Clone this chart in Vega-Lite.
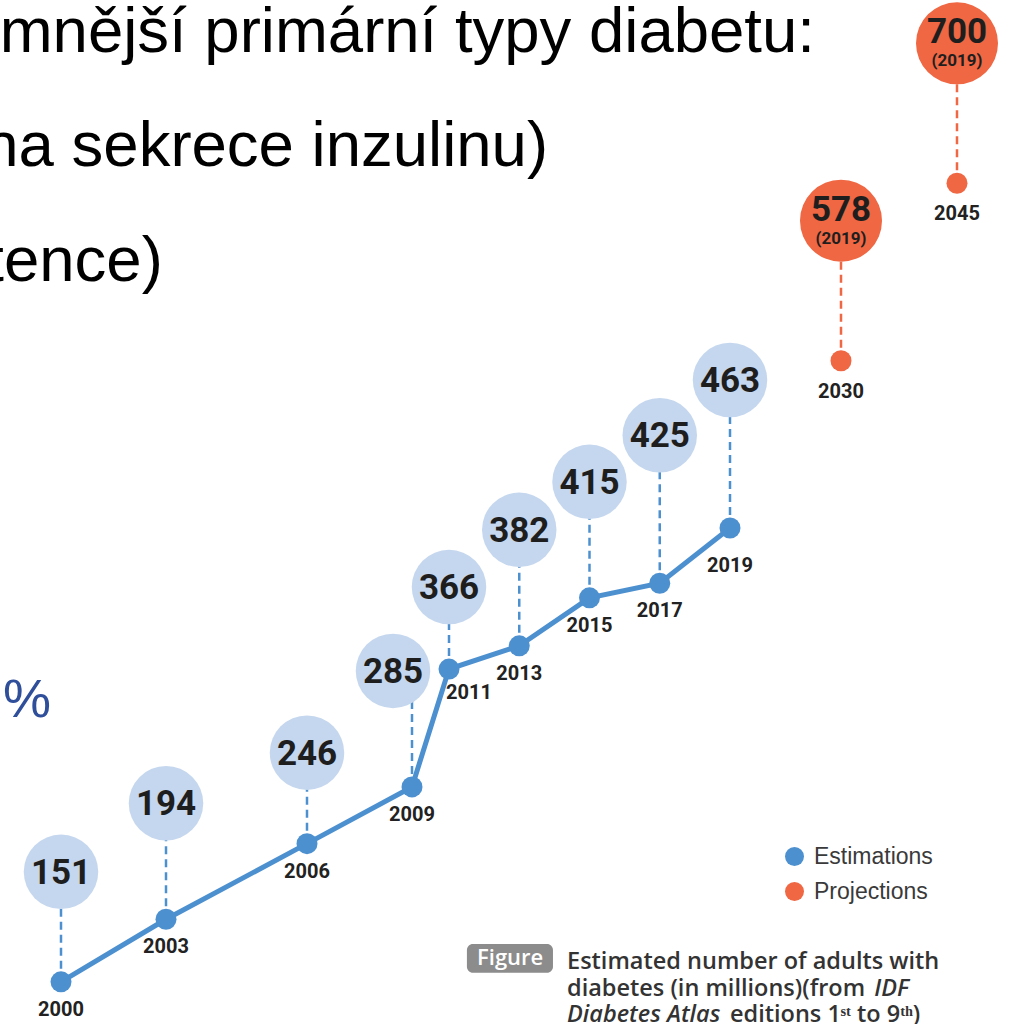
{
  "$schema": "https://vega.github.io/schema/vega-lite/v6.json",
  "width": 1012,
  "height": 1024,
  "autosize": {"type": "none"},
  "padding": 0,
  "background": "white",
  "config": {"view": {"stroke": null}, "font": "Liberation Sans"},
  "data": {
    "values": [
      {"year": 2000, "value": 151, "type": "Estimations", "edition": ""},
      {"year": 2003, "value": 194, "type": "Estimations", "edition": ""},
      {"year": 2006, "value": 246, "type": "Estimations", "edition": ""},
      {"year": 2009, "value": 285, "type": "Estimations", "edition": ""},
      {"year": 2011, "value": 366, "type": "Estimations", "edition": ""},
      {"year": 2013, "value": 382, "type": "Estimations", "edition": ""},
      {"year": 2015, "value": 415, "type": "Estimations", "edition": ""},
      {"year": 2017, "value": 425, "type": "Estimations", "edition": ""},
      {"year": 2019, "value": 463, "type": "Estimations", "edition": ""},
      {"year": 2030, "value": 578, "type": "Projections", "edition": "(2019)"},
      {"year": 2045, "value": 700, "type": "Projections", "edition": "(2019)"}
    ]
  },
  "encoding": {
    "x": {"field": "year", "type": "quantitative", "axis": null, "scale": {"type": "linear", "domain": [2000, 2003, 2006, 2009, 2011, 2019, 2030, 2045], "range": [61, 166, 307, 412, 449, 730, 841, 957], "nice": false, "zero": false}},
    "y": {"field": "value", "type": "quantitative", "axis": null, "scale": {"domain": [122, 826], "nice": false, "zero": false}}
  },
  "layer": [
    {
      "mark": {"type": "rule", "strokeDash": [8, 5], "strokeWidth": 2.5,
        "color": {"expr": "datum.type=='Projections' ? '#ef6743' : '#4d90d0'"},
        "y2Offset": {"expr": "datum.type=='Projections' ? -140 : datum.year==2006 ? -91 : datum.year==2011 ? -82 : datum.year>=2017 ? -148 : datum.year==2000 ? -110 : -116"}},
      "encoding": {"y2": {"field": "value"}}
    },
    {
      "transform": [{"filter": "datum.type=='Estimations'"}],
      "mark": {"type": "line", "color": "#4d90d0", "strokeWidth": 5},
      "encoding": {}
    },
    {
      "mark": {"type": "point", "filled": true, "size": 441, "opacity": 1, "strokeWidth": 0},
      "encoding": {
        "color": {"field": "type", "type": "nominal",
          "scale": {"domain": ["Estimations", "Projections"], "range": ["#4d90d0", "#ef6743"]},
          "legend": {"orient": "none", "legendX": 783, "legendY": 845, "title": null, "symbolType": "circle", "symbolSize": 361, "symbolStrokeWidth": 0, "symbolOpacity": 1, "labelFont": "Liberation Sans", "labelFontSize": 23, "labelColor": "#3a3a3a", "labelOffset": 8, "rowPadding": 11, "padding": 0}}
      }
    },
    {
      "transform": [{"filter": "datum.type=='Estimations'"}],
      "mark": {"type": "point", "filled": true, "size": 5550, "opacity": 1, "color": "#c5d7ee", "strokeWidth": 0,
        "yOffset": {"expr": "datum.year==2006 ? -91 : datum.year==2011 ? -82 : datum.year>=2017 ? -148 : datum.year==2000 ? -110 : -116"},
        "xOffset": {"expr": "datum.year==2009 ? -19 : 0"}},
      "encoding": {}
    },
    {
      "transform": [{"filter": "datum.type=='Projections'"}],
      "mark": {"type": "point", "filled": true, "size": 6724, "opacity": 1, "color": "#ef6743", "strokeWidth": 0, "yOffset": -140},
      "encoding": {}
    },
    {
      "transform": [{"filter": "datum.type=='Estimations'"}],
      "mark": {"type": "text", "font": "Roboto", "fontWeight": "bold", "fontSize": 35, "color": "#1e1e1e", "baseline": "middle", "align": "center",
        "dy": {"expr": "datum.year==2006 ? -90 : datum.year==2011 ? -81 : datum.year>=2017 ? -147 : datum.year==2000 ? -109 : -115"},
        "dx": {"expr": "datum.year==2009 ? -19 : 0"}},
      "encoding": {"text": {"field": "value", "type": "quantitative"}}
    },
    {
      "transform": [{"filter": "datum.type=='Projections'"}],
      "mark": {"type": "text", "font": "Roboto", "fontWeight": "bold", "fontSize": 35, "color": "#1e1e1e", "baseline": "middle", "align": "center", "dy": -151},
      "encoding": {"text": {"field": "value", "type": "quantitative"}}
    },
    {
      "transform": [{"filter": "datum.type=='Projections'"}],
      "mark": {"type": "text", "font": "Roboto", "fontWeight": "bold", "fontSize": 17, "color": "#1e1e1e", "baseline": "middle", "align": "center", "dy": -122},
      "encoding": {"text": {"field": "edition", "type": "nominal"}}
    },
    {
      "mark": {"type": "text", "font": "Roboto", "fontWeight": "bold", "fontSize": 20, "color": "#222222", "baseline": "middle", "align": "center",
        "dy": {"expr": "datum.year==2011 ? 24 : datum.year==2019 ? 38 : datum.type=='Projections' ? 31 : 28"},
        "dx": {"expr": "datum.year==2011 ? 20 : 0"}},
      "encoding": {"text": {"field": "year", "type": "nominal"}}
    },
    {
      "transform": [{"filter": "datum.year==2000"}],
      "mark": {"type": "text", "font": "Liberation Sans", "fontSize": 63.5, "color": "#000000", "align": "right", "baseline": "alphabetic"},
      "encoding": {"x": {"datum": 2027.42, "type": "quantitative"}, "y": {"datum": 790.25, "type": "quantitative"}, "text": {"value": "mnější primární typy diabetu:"}}
    },
    {
      "transform": [{"filter": "datum.year==2000"}],
      "mark": {"type": "text", "font": "Liberation Sans", "fontSize": 63.5, "color": "#000000", "align": "right", "baseline": "alphabetic"},
      "encoding": {"x": {"datum": 2013.82, "type": "quantitative"}, "y": {"datum": 711.9, "type": "quantitative"}, "text": {"value": "na sekrece inzulinu)"}}
    },
    {
      "transform": [{"filter": "datum.year==2000"}],
      "mark": {"type": "text", "font": "Liberation Sans", "fontSize": 63.5, "color": "#000000", "align": "right", "baseline": "alphabetic"},
      "encoding": {"x": {"datum": 2002.91, "type": "quantitative"}, "y": {"datum": 632.8, "type": "quantitative"}, "text": {"value": "tence)"}}
    },
    {
      "transform": [{"filter": "datum.year==2000"}],
      "mark": {"type": "text", "font": "Liberation Sans", "fontSize": 54, "color": "#2f4f9b", "align": "left", "baseline": "alphabetic"},
      "encoding": {"x": {"datum": 1998.34, "type": "quantitative"}, "y": {"datum": 333.1, "type": "quantitative"}, "text": {"value": "%"}}
    },
    {
      "transform": [{"filter": "datum.year==2000"}],
      "mark": {"type": "rect", "color": "#8c8c8c", "cornerRadius": 6},
      "encoding": {"x": {"datum": 2011.51, "type": "quantitative"}, "x2": {"datum": 2013.96}, "y": {"datum": 177.0, "type": "quantitative"}, "y2": {"datum": 157.2}}
    },
    {
      "transform": [{"filter": "datum.year==2000"}],
      "mark": {"type": "text", "font": "Open Sans", "fontWeight": 600, "fontSize": 22, "color": "#ffffff", "align": "center", "baseline": "middle"},
      "encoding": {"x": {"datum": 2012.74, "type": "quantitative"}, "y": {"datum": 167.1, "type": "quantitative"}, "text": {"value": "Figure"}}
    },
    {
      "transform": [{"filter": "datum.year==2000"}],
      "mark": {"type": "text", "font": "Open Sans", "fontWeight": 600, "fontSize": 23.5, "color": "#333333", "align": "left", "baseline": "alphabetic"},
      "encoding": {"x": {"datum": 2014.36, "type": "quantitative"}, "y": {"datum": 159.8, "type": "quantitative"}, "text": {"value": "Estimated number of adults with"}}
    },
    {
      "transform": [{"filter": "datum.year==2000"}],
      "mark": {"type": "text", "font": "Open Sans", "fontWeight": 600, "fontSize": 23.5, "color": "#333333", "align": "left", "baseline": "alphabetic"},
      "encoding": {"x": {"datum": 2014.36, "type": "quantitative"}, "y": {"datum": 141.3, "type": "quantitative"}, "text": {"value": "diabetes (in millions)(from"}}
    },
    {
      "transform": [{"filter": "datum.year==2000"}],
      "mark": {"type": "text", "font": "Open Sans", "fontWeight": 600, "fontStyle": "italic", "fontSize": 23.5, "color": "#333333", "align": "left", "baseline": "alphabetic"},
      "encoding": {"x": {"datum": 2034.3, "type": "quantitative"}, "y": {"datum": 141.3, "type": "quantitative"}, "text": {"value": "IDF"}}
    },
    {
      "transform": [{"filter": "datum.year==2000"}],
      "mark": {"type": "text", "font": "Open Sans", "fontWeight": 600, "fontStyle": "italic", "fontSize": 23.5, "color": "#333333", "align": "left", "baseline": "alphabetic"},
      "encoding": {"x": {"datum": 2014.36, "type": "quantitative"}, "y": {"datum": 123.4, "type": "quantitative"}, "text": {"value": "Diabetes Atlas"}}
    },
    {
      "transform": [{"filter": "datum.year==2000"}],
      "mark": {"type": "text", "font": "Open Sans", "fontWeight": 600, "fontSize": 23.5, "color": "#333333", "align": "left", "baseline": "alphabetic"},
      "encoding": {"x": {"datum": 2019, "type": "quantitative"}, "y": {"datum": 123.4, "type": "quantitative"}, "text": {"value": "editions 1ˢᵗ to 9ᵗʰ)"}}
    }
  ]
}
